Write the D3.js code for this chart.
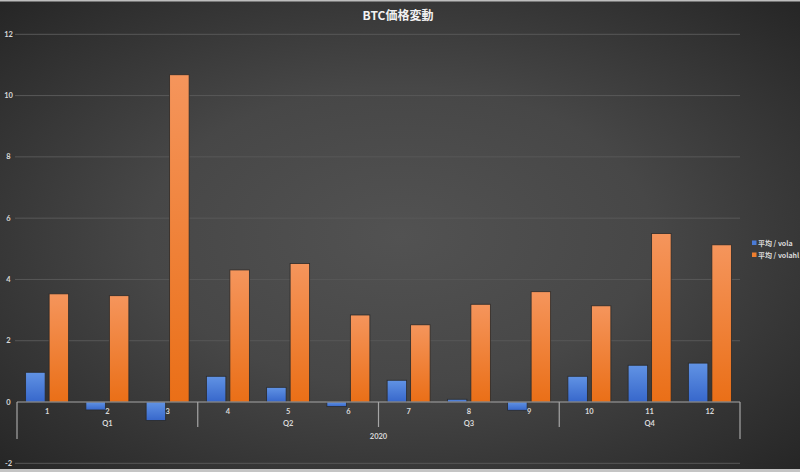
<!DOCTYPE html>
<html>
<head>
<meta charset="utf-8">
<script src="https://cdn.jsdelivr.net/npm/d3@7"></script>
<style>
html,body{margin:0;padding:0;background:#2b2b2b;}
svg{display:block;}
</style>
</head>
<body>
<svg id="chart" width="800" height="472"></svg>
<script>
const months = ["1","2","3","4","5","6","7","8","9","10","11","12"];
const quarters = ["Q1","Q2","Q3","Q4"];
const yearLabel = "2020";
const seriesNames = ["平均 / vola","平均 / volahl"];
const vola = [0.97, -0.26, -0.60, 0.84, 0.48, -0.15, 0.71, 0.09, -0.27, 0.84, 1.20, 1.27];
const volahl = [3.53, 3.47, 10.68, 4.31, 4.52, 2.84, 2.52, 3.19, 3.60, 3.14, 5.50, 5.13];
const yTicks = [-2, 0, 2, 4, 6, 8, 10, 12];
const title = "BTC価格変動";

const W = 800, H = 472;
const svg = d3.select("#chart");
const defs = svg.append("defs");

const bg = defs.append("radialGradient").attr("id","bg")
  .attr("cx","50%").attr("cy","50%").attr("r","70%");
bg.append("stop").attr("offset","0%").attr("stop-color","#525252");
bg.append("stop").attr("offset","45%").attr("stop-color","#474747");
bg.append("stop").attr("offset","100%").attr("stop-color","#262626");

function grad(id, top, bottom){
  const g = defs.append("linearGradient").attr("id",id)
    .attr("x1","0").attr("y1","0").attr("x2","0").attr("y2","1");
  g.append("stop").attr("offset","0%").attr("stop-color",top);
  g.append("stop").attr("offset","100%").attr("stop-color",bottom);
}
grad("gBlue","#6193e4","#3767cb");
grad("gOrange","#f5955c","#ea6f17");

svg.append("rect").attr("width",W).attr("height",H).attr("fill","url(#bg)");
svg.append("rect").attr("x",0).attr("y",0).attr("width",W).attr("height",1.5).attr("fill","#bdbdbd");
svg.append("rect").attr("x",0).attr("y",H-3).attr("width",W).attr("height",3).attr("fill","#c4c4c4");

const left = 17, right = 740;
const y = d3.scaleLinear().domain([-2,12]).range([463.3, 34.3]);
const x0 = d3.scaleBand().domain(months).range([left,right]).padding(0);
const x1 = d3.scaleBand().domain(seriesNames).range([0,x0.bandwidth()])
  .paddingInner(0.17).paddingOuter(0.367);

// gridlines
svg.append("g").selectAll("line").data(yTicks.filter(d=>d!==0)).join("line")
  .attr("x1",15).attr("x2",right)
  .attr("y1",d=>y(d)).attr("y2",d=>y(d))
  .attr("stroke","#585858").attr("stroke-width",1);

// y tick labels
svg.append("g").selectAll("text").data(yTicks).join("text")
  .attr("x",8.5).attr("y",d=>y(d)+2.5)
  .attr("text-anchor","middle")
  .attr("font-family","Lato, 'DejaVu Sans', sans-serif")
  .attr("font-size",7.5).attr("font-weight","bold")
  .attr("fill","#d9d9d9")
  .text(d=>d);

// bars
const data = months.map((m,i)=>({m, vals:[{s:seriesNames[0],v:vola[i]},{s:seriesNames[1],v:volahl[i]}]}));
const fills = {[seriesNames[0]]:"url(#gBlue)",[seriesNames[1]]:"url(#gOrange)"};
svg.append("g").selectAll("g").data(data).join("g")
  .attr("transform",d=>`translate(${x0(d.m)},0)`)
  .selectAll("rect").data(d=>d.vals).join("rect")
  .attr("x",d=>x1(d.s)).attr("width",x1.bandwidth())
  .attr("y",d=>y(Math.max(0,d.v)))
  .attr("height",d=>Math.abs(y(d.v)-y(0)))
  .attr("fill",d=>fills[d.s])
  .attr("stroke","#2a2a2a").attr("stroke-width",0.8);

// x axis line
const ax = svg.append("g").attr("stroke","#a6a6a6").attr("stroke-width",1.2);
ax.append("line").attr("x1",left).attr("x2",right).attr("y1",y(0)).attr("y2",y(0));
ax.append("line").attr("x1",left).attr("x2",left).attr("y1",y(0)).attr("y2",439);
ax.append("line").attr("x1",right).attr("x2",right).attr("y1",y(0)).attr("y2",439);
const qSep = [3,6,9];
ax.selectAll("line.q").data(qSep).join("line").attr("class","q")
  .attr("x1",d=>x0(months[d])).attr("x2",d=>x0(months[d]))
  .attr("y1",y(0)).attr("y2",427);

const labelFont = "Lato, 'DejaVu Sans', sans-serif";
svg.append("g").selectAll("text").data(months).join("text")
  .attr("x",d=>x0(d)+x0.bandwidth()/2).attr("y",413.5)
  .attr("text-anchor","middle").attr("font-family",labelFont)
  .attr("font-size",7.5).attr("font-weight","bold").attr("fill","#d9d9d9")
  .text(d=>d);

svg.append("g").selectAll("text").data(quarters).join("text")
  .attr("x",(d,i)=>(x0(months[i*3]) + x0(months[i*3+2]) + x0.bandwidth())/2)
  .attr("y",426)
  .attr("text-anchor","middle").attr("font-family",labelFont)
  .attr("font-size",7.5).attr("font-weight","bold").attr("fill","#d9d9d9")
  .text(d=>d);

svg.append("text").attr("x",(left+right)/2).attr("y",438.5)
  .attr("text-anchor","middle").attr("font-family",labelFont)
  .attr("font-size",7.5).attr("font-weight","bold").attr("fill","#d9d9d9")
  .text(yearLabel);

// title
svg.append("text").attr("x",398).attr("y",20)
  .attr("text-anchor","middle")
  .attr("font-family","'Noto Sans CJK JP', sans-serif")
  .attr("font-size",12).attr("font-weight","bold").attr("fill","#f2f2f2")
  .text(title);

// legend
const legColors = ["#4a7bd6","#ef7f2f"];
const leg = svg.append("g").selectAll("g").data(seriesNames).join("g")
  .attr("transform",(d,i)=>`translate(752,${243 + i*12})`);
leg.append("rect").attr("x",0).attr("y",-2.5).attr("width",4.5).attr("height",4.5)
  .attr("fill",(d,i)=>legColors[i]);
leg.append("text").attr("x",6).attr("y",2.5)
  .attr("font-family","'Noto Sans CJK JP', sans-serif")
  .attr("font-size",7).attr("font-weight","bold").attr("fill","#d9d9d9")
  .text(d=>d);
</script>
</body>
</html>
